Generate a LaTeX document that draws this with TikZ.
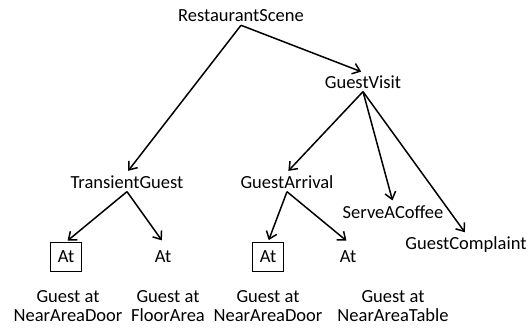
\documentclass[tikz,border=0pt]{standalone}
\usepackage{fontspec}
\setmainfont{Carlito}
\usetikzlibrary{arrows.meta}

\begin{document}
\begin{tikzpicture}[x=1pt,y=-1pt,
    every node/.style={font=\fontsize{18.5}{19}\selectfont, inner sep=3pt},
    link/.style={line width=1.5pt, -{Straight Barb[length=7pt,width=11pt,line width=1.5pt]}, shorten >=2pt}]
  \useasboundingbox (0,0) rectangle (529,327);
  \node (RS) at (241,16) {RestaurantScene};
  \node (GV) at (363,82) {GuestVisit};
  \node (TG) at (127,182) {TransientGuest};
  \node (GA) at (287,182) {GuestArrival};
  \node (SC) at (393,212) {ServeACoffee};
  \node (GC) at (466,245) {GuestComplaint};
  % At nodes with their guest places
  \foreach \i/\x/\d/\c/\n in {1/66/black/68/Guest at\\NearAreaDoor,2/163/none/168/Guest at\\FloorArea,
                              3/268/black/268/Guest at\\NearAreaDoor,4/348/none/393/Guest at\\NearAreaTable} {
    \node[draw=\d, line width=1pt, minimum height=29pt, minimum width=31pt] (A\i) at (\x,257) {At};
    \node[align=center, inner sep=0pt] (L\i) at (\c,306) {\n};
  }
  \draw[link] (RS.south) -- (GV.north);
  \draw[link] (RS.south) -- (TG.north);
  \foreach \t in {GA,SC,GC} {
    \draw[link] (GV.south) -- (\t.north);
  }
  \draw[link] (TG.south) -- (A1.north);
  \draw[link] (TG.south) -- (A2.north);
  \draw[link] (GA.south) -- (A3.north);
  \draw[link] (GA.south) -- (A4.north);
\end{tikzpicture}
\end{document}
